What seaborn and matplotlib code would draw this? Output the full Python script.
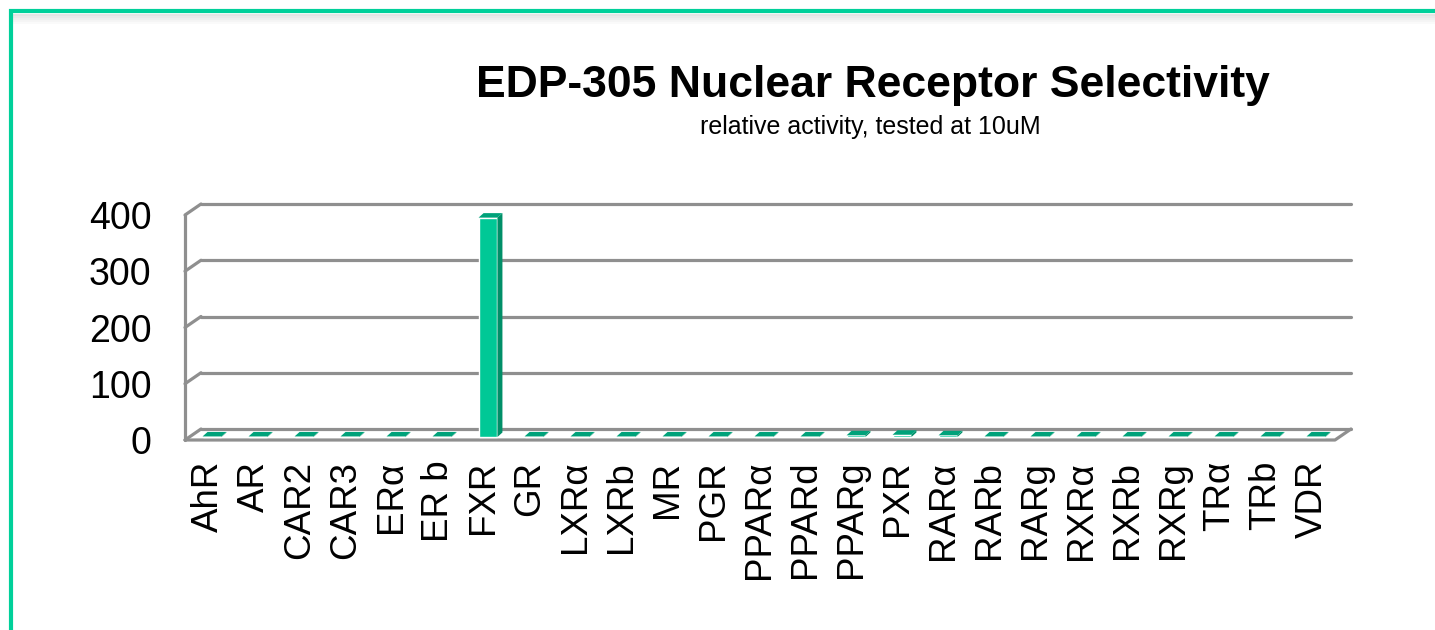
import pandas as pd
import matplotlib.pyplot as plt
import seaborn as sns
from matplotlib.patches import Polygon, Rectangle
from matplotlib.lines import Line2D
from matplotlib.transforms import offset_copy

receptors = ['AhR', 'AR', 'CAR2', 'CAR3', 'ERα', 'ER b', 'FXR', 'GR', 'LXRα', 'LXRb',
             'MR', 'PGR', 'PPARα', 'PPARd', 'PPARg', 'PXR', 'RARα', 'RARb', 'RARg',
             'RXRα', 'RXRb', 'RXRg', 'TRα', 'TRb', 'VDR']
activity = [1, 1, 1, 1, 1, 1, 390, 1, 1, 1, 1, 1, 1, 1, 3, 4, 3, 1, 1, 1, 1, 1, 1, 1, 1]
y_ticks = [0, 100, 200, 300, 400]

title = 'EDP-305 Nuclear Receptor Selectivity'
subtitle = 'relative activity, tested at 10uM'

df = pd.DataFrame({'Receptor': receptors, 'Activity': activity})

sns.set_style('white')
plt.rcParams['font.family'] = ['Liberation Sans', 'DejaVu Sans']
plt.rcParams['text.color'] = 'black'
plt.rcParams['xtick.color'] = 'black'
plt.rcParams['ytick.color'] = 'black'

W, H = 1435, 630
fig = plt.figure(figsize=(W / 100, H / 100), dpi=100)

# front plane of the 3d box
x0, x1 = 185, 1335
y0, y1 = 440, 215
ax = fig.add_axes([x0 / W, (H - y0) / H, (x1 - x0) / W, (y0 - y1) / H])

grey = '#8f8f8f'
front = '#00c896'
side = '#008f68'
top = '#00a27a'

sns.barplot(data=df, x='Receptor', y='Activity', color=front, width=0.41,
            saturation=1, ax=ax, zorder=3)
ax.set_xlim(-0.5, len(receptors) - 0.5)
ax.set_ylim(0, 400)

# pixel -> data conversion for the depth of the box
px_x = (len(receptors)) / (x1 - x0)
px_y = 400 / (y0 - y1)
dx, dy = 16 * px_x, 11 * px_y
xa, xb = -0.5, len(receptors) - 0.5

# back wall grid and left wall
for t in y_ticks:
    ax.plot([xa + dx, xb + dx], [t + dy, t + dy], color=grey, lw=2.3, clip_on=False, zorder=1)
    ax.plot([xa, xa + dx], [t, t + dy], color=grey, lw=2.3, clip_on=False, zorder=1)
ax.plot([xa, xa], [0, 400], color=grey, lw=2.3, clip_on=False, zorder=1)
# floor
ax.plot([xa, xb, xb + dx], [0, 0, dy], color=grey, lw=2.3, clip_on=False, zorder=1)

# 3d faces of the bars, bars sit in the middle of the depth
shift = offset_copy(ax.transData, fig=fig, x=4, y=3, units='dots')
bdx, bdy = 5 * px_x, 4.5 * px_y
for p in ax.patches:
    p.set_transform(shift)
    p.set_clip_on(False)
    bx, bw, bh = p.get_x(), p.get_width(), p.get_height()
    ax.add_patch(Polygon([[bx + bw, 0], [bx + bw + bdx, bdy], [bx + bw + bdx, bh + bdy], [bx + bw, bh]],
                         closed=True, facecolor=side, edgecolor='none', transform=shift,
                         clip_on=False, zorder=3))
    ax.add_patch(Polygon([[bx, bh], [bx + bdx, bh + bdy], [bx + bw + bdx, bh + bdy], [bx + bw, bh]],
                         closed=True, facecolor=top, edgecolor='none', transform=shift,
                         clip_on=False, zorder=3))

ax.set_yticks(y_ticks)
ax.set_yticklabels([str(t) for t in y_ticks], fontsize=27)
ax.set_xticks(range(len(receptors)))
ax.set_xticklabels(receptors, rotation=90, fontsize=26.5, va='top', ha='center')
ax.tick_params(axis='y', length=0, pad=24)
ax.tick_params(axis='x', length=0, pad=15)
ax.set_xlabel('')
ax.set_ylabel('')
for s in ax.spines.values():
    s.set_visible(False)
ax.patch.set_alpha(0)

fig.text(873 / W, 1 - 86 / H, title, fontsize=32, fontweight='bold', ha='center', va='center')
fig.text(870 / W, 1 - 127 / H, subtitle, fontsize=18, ha='center', va='center')

# green frame of the slide box, with a soft shadow under its top edge
for i, a in enumerate([0.10, 0.08, 0.06, 0.04, 0.02]):
    yy = 1 - (15 + i * 2) / H
    fig.add_artist(Line2D([13 / W, 1], [yy, yy], transform=fig.transFigure,
                          color='black', alpha=a, lw=1.5, zorder=0))
fig.patches.append(Rectangle((11 / W, -0.2), 1.2, 1 - 11 / H + 0.2, transform=fig.transFigure,
                             fill=False, edgecolor='#00d09a', lw=3, zorder=1))

fig.savefig('out.png', dpi=100)
